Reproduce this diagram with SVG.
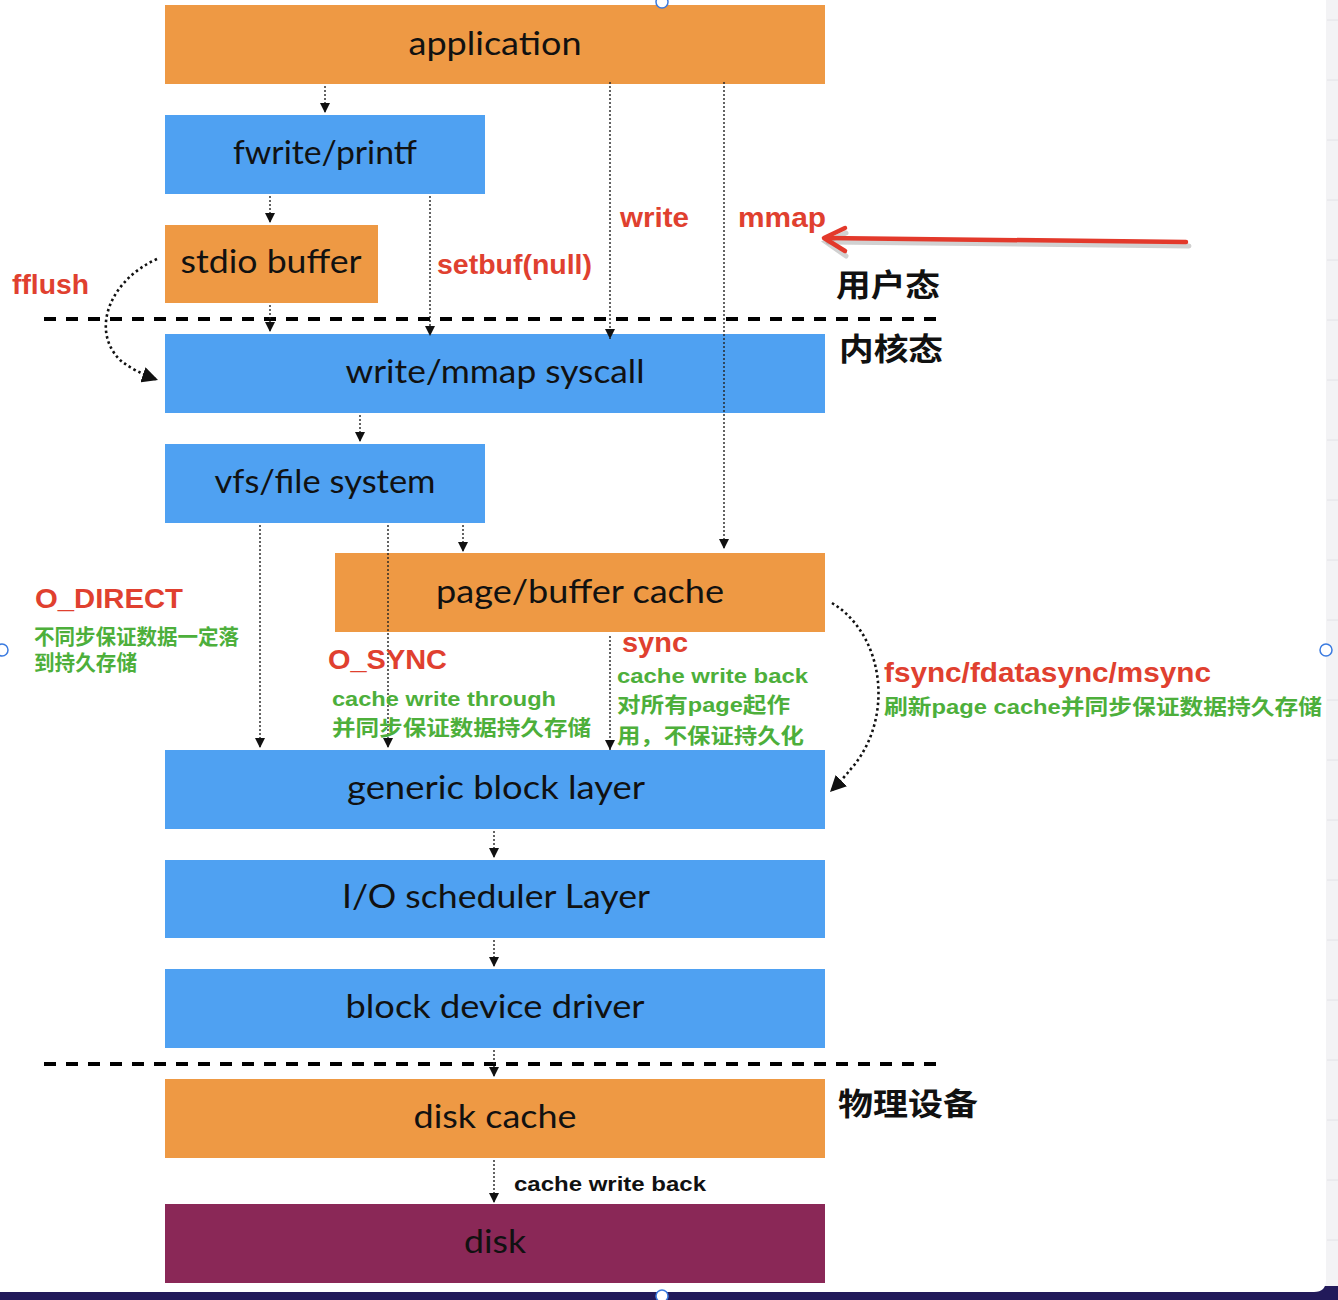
<svg xmlns="http://www.w3.org/2000/svg" width="1338" height="1300" viewBox="0 0 1338 1300">
<style>
.box text{font-family:Lato,"Open Sans","Noto Sans",sans-serif;font-size:33px;fill:#111;text-anchor:middle}
.or{fill:#EE9944}
.bl{fill:#4FA1F2}
.red{font-family:"Liberation Sans",Arial,sans-serif;font-weight:bold;font-size:27px;fill:#E0402F}
.grn{font-family:"Liberation Sans","Noto Sans CJK SC",sans-serif;font-weight:bold;font-size:21px;fill:#4DAF3B}
.zh{font-family:"Noto Sans CJK SC",sans-serif;font-weight:bold;font-size:31px;fill:#111}
.dot{stroke:#222;stroke-width:1.4;stroke-dasharray:2,2;fill:none}
.curve{stroke:#111;stroke-width:2.6;stroke-dasharray:2.5,3;fill:none}
.sep{stroke:#000;stroke-width:4;stroke-dasharray:12,10}
</style>
<defs>
<marker id="ah" viewBox="0 0 10 10" refX="10" refY="5" markerWidth="10" markerHeight="10" markerUnits="userSpaceOnUse" orient="auto">
<path d="M0,0 L10,5 L0,10 z" fill="#111"/>
</marker>
<marker id="ah2" viewBox="0 0 10 10" refX="10" refY="5" markerWidth="16" markerHeight="16" markerUnits="userSpaceOnUse" orient="auto">
<path d="M0,0 L10,5 L0,10 z" fill="#111"/>
</marker>
</defs>
<rect width="1338" height="1300" fill="#f3f3f5"/>
<rect x="0" y="1286" width="1338" height="14" fill="#221a5a"/>
<path d="M0,0 H1326 V1280 Q1326,1292 1314,1292 H0 z" fill="#ffffff"/>
<g stroke="#e2e2e6" stroke-width="1">
<line x1="1327" y1="20" x2="1338" y2="20"/><line x1="1327" y1="80" x2="1338" y2="80"/><line x1="1327" y1="140" x2="1338" y2="140"/><line x1="1327" y1="200" x2="1338" y2="200"/><line x1="1327" y1="260" x2="1338" y2="260"/><line x1="1327" y1="320" x2="1338" y2="320"/><line x1="1327" y1="380" x2="1338" y2="380"/><line x1="1327" y1="440" x2="1338" y2="440"/><line x1="1327" y1="500" x2="1338" y2="500"/><line x1="1327" y1="560" x2="1338" y2="560"/><line x1="1327" y1="620" x2="1338" y2="620"/><line x1="1327" y1="700" x2="1338" y2="700"/><line x1="1327" y1="760" x2="1338" y2="760"/><line x1="1327" y1="820" x2="1338" y2="820"/><line x1="1327" y1="880" x2="1338" y2="880"/><line x1="1327" y1="940" x2="1338" y2="940"/><line x1="1327" y1="1000" x2="1338" y2="1000"/><line x1="1327" y1="1060" x2="1338" y2="1060"/><line x1="1327" y1="1120" x2="1338" y2="1120"/><line x1="1327" y1="1180" x2="1338" y2="1180"/><line x1="1327" y1="1240" x2="1338" y2="1240"/>
</g>

<g id="separators">
<line class="sep" x1="44" y1="319" x2="945" y2="319"/>
<line class="sep" x1="44" y1="1064" x2="945" y2="1064"/>
</g>

<g id="n-application" class="box"><rect class="or" x="165" y="5" width="660" height="79"/><text x="495" y="55" textLength="173" lengthAdjust="spacingAndGlyphs">application</text></g>
<g id="n-fwrite" class="box"><rect class="bl" x="165" y="115" width="320" height="79"/><text x="325" y="164" textLength="184" lengthAdjust="spacingAndGlyphs">fwrite/printf</text></g>
<g id="n-stdio" class="box"><rect class="or" x="165" y="225" width="213" height="78"/><text x="271" y="273" textLength="181" lengthAdjust="spacingAndGlyphs">stdio buffer</text></g>
<g id="n-syscall" class="box"><rect class="bl" x="165" y="334" width="660" height="79"/><text x="495" y="383" textLength="299" lengthAdjust="spacingAndGlyphs">write/mmap syscall</text></g>
<g id="n-vfs" class="box"><rect class="bl" x="165" y="444" width="320" height="79"/><text x="325" y="493" textLength="221" lengthAdjust="spacingAndGlyphs">vfs/file system</text></g>
<g id="n-pagecache" class="box"><rect class="or" x="335" y="553" width="490" height="79"/><text x="580" y="603" textLength="288" lengthAdjust="spacingAndGlyphs">page/buffer cache</text></g>
<g id="n-generic" class="box"><rect class="bl" x="165" y="750" width="660" height="79"/><text x="496" y="799" textLength="298" lengthAdjust="spacingAndGlyphs">generic block layer</text></g>
<g id="n-io" class="box"><rect class="bl" x="165" y="860" width="660" height="78"/><text x="496" y="908" textLength="308" lengthAdjust="spacingAndGlyphs">I/O scheduler Layer</text></g>
<g id="n-driver" class="box"><rect class="bl" x="165" y="969" width="660" height="79"/><text x="495" y="1018" textLength="299" lengthAdjust="spacingAndGlyphs">block device driver</text></g>
<g id="n-diskcache" class="box"><rect class="or" x="165" y="1079" width="660" height="79"/><text x="495" y="1128" textLength="163" lengthAdjust="spacingAndGlyphs">disk cache</text></g>
<g id="n-disk" class="box"><rect x="165" y="1204" width="660" height="79" fill="#8A2857"/><text x="495" y="1253" textLength="62" lengthAdjust="spacingAndGlyphs">disk</text></g>

<g id="connectors">
<line class="dot" x1="325" y1="86" x2="325" y2="113" marker-end="url(#ah)"/>
<line class="dot" x1="270" y1="196" x2="270" y2="223" marker-end="url(#ah)"/>
<line class="dot" x1="270" y1="305" x2="270" y2="332" marker-end="url(#ah)"/>
<line class="dot" x1="430" y1="196" x2="430" y2="336" marker-end="url(#ah)"/>
<line class="dot" x1="610" y1="82" x2="610" y2="339" marker-end="url(#ah)"/>
<line class="dot" x1="724" y1="82" x2="724" y2="549" marker-end="url(#ah)"/>
<line class="dot" x1="360" y1="415" x2="360" y2="442" marker-end="url(#ah)"/>
<line class="dot" x1="463" y1="525" x2="463" y2="552" marker-end="url(#ah)"/>
<line class="dot" x1="260" y1="525" x2="260" y2="748" marker-end="url(#ah)"/>
<line class="dot" x1="388" y1="525" x2="388" y2="748" marker-end="url(#ah)"/>
<line class="dot" x1="610" y1="636" x2="610" y2="750" marker-end="url(#ah)"/>
<line class="dot" x1="494" y1="831" x2="494" y2="858" marker-end="url(#ah)"/>
<line class="dot" x1="494" y1="940" x2="494" y2="967" marker-end="url(#ah)"/>
<line class="dot" x1="494" y1="1050" x2="494" y2="1077" marker-end="url(#ah)"/>
<line class="dot" x1="494" y1="1160" x2="494" y2="1203" marker-end="url(#ah)"/>
<path class="curve" d="M157,259 C110,280 90,330 120,360 Q135,372 158,380" marker-end="url(#ah2)"/>
<path class="curve" d="M832,603 C885,635 895,720 850,770 Q842,780 830,792" marker-end="url(#ah2)"/>
<g id="red-arrow">
<g stroke="#999" stroke-opacity="0.45" stroke-width="5" fill="none" stroke-linecap="round"><line x1="1189" y1="246" x2="828" y2="242"/><polyline points="846,233 826,242 846,256"/></g>
<g stroke="#E3392B" stroke-width="4.5" fill="none" stroke-linecap="round" stroke-linejoin="round"><line x1="1186" y1="242" x2="826" y2="238"/><polyline points="845,228 824,238 845,251"/></g>
</g>
</g>

<g id="labels">
<text class="red" x="620" y="227" textLength="69" lengthAdjust="spacingAndGlyphs">write</text>
<text class="red" x="738" y="227" textLength="88" lengthAdjust="spacingAndGlyphs">mmap</text>
<text class="red" x="437" y="274" textLength="155" lengthAdjust="spacingAndGlyphs">setbuf(null)</text>
<text class="red" x="12" y="294" textLength="77" lengthAdjust="spacingAndGlyphs">fflush</text>
<text class="zh" x="836" y="296" textLength="104" lengthAdjust="spacingAndGlyphs">用户态</text>
<text class="zh" x="839" y="360" textLength="104" lengthAdjust="spacingAndGlyphs">内核态</text>
<text class="zh" x="838" y="1115" textLength="140" lengthAdjust="spacingAndGlyphs">物理设备</text>
<text class="red" x="35" y="608" textLength="148" lengthAdjust="spacingAndGlyphs">O_DIRECT</text>
<text class="grn" x="34" y="644" textLength="205" lengthAdjust="spacingAndGlyphs">不同步保证数据一定落</text>
<text class="grn" x="34" y="670" textLength="103" lengthAdjust="spacingAndGlyphs">到持久存储</text>
<text class="red" x="328" y="669" textLength="119" lengthAdjust="spacingAndGlyphs">O_SYNC</text>
<text class="grn" x="332" y="706" textLength="224" lengthAdjust="spacingAndGlyphs">cache write through</text>
<text class="grn" x="332" y="735" textLength="259" lengthAdjust="spacingAndGlyphs">并同步保证数据持久存储</text>
<text class="red" x="622" y="652" textLength="66" lengthAdjust="spacingAndGlyphs">sync</text>
<text class="grn" x="617" y="683" textLength="191" lengthAdjust="spacingAndGlyphs">cache write back</text>
<text class="grn" x="617" y="712" textLength="173" lengthAdjust="spacingAndGlyphs">对所有page起作</text>
<text class="grn" x="617" y="743" textLength="187" lengthAdjust="spacingAndGlyphs">用，不保证持久化</text>
<text class="red" x="884" y="682" textLength="327" lengthAdjust="spacingAndGlyphs">fsync/fdatasync/msync</text>
<text class="grn" x="884" y="714" textLength="438" lengthAdjust="spacingAndGlyphs">刷新page cache并同步保证数据持久存储</text>
<text x="514" y="1191" font-family="Liberation Sans,Arial,sans-serif" font-weight="bold" font-size="21" fill="#111" textLength="192" lengthAdjust="spacingAndGlyphs">cache write back</text>
</g>

<g id="handles" fill="#fff" stroke="#3B7BE0" stroke-width="1.5">
<circle cx="662" cy="2" r="6"/><circle cx="2" cy="650" r="6"/><circle cx="1326" cy="650" r="6"/><circle cx="662" cy="1296" r="6"/>
</g>
</svg>
